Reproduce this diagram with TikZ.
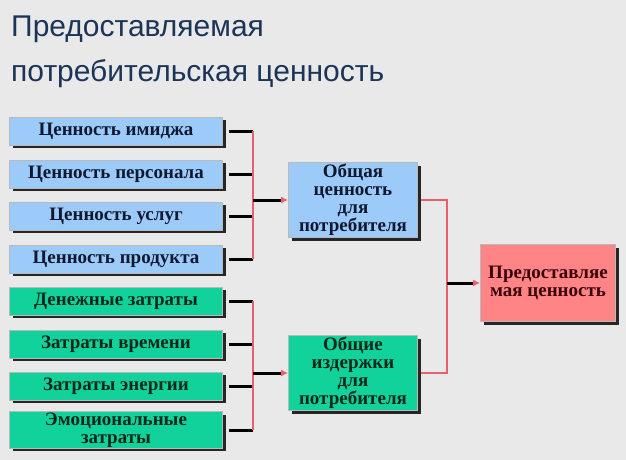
\documentclass[tikz,border=0pt]{standalone}
\usepackage{fontspec}
\setmainfont{Liberation Serif}
\newfontfamily\titlefont{Liberation Sans}
\usetikzlibrary{arrows.meta,shadows}
\definecolor{bg}{HTML}{E9E9E9}
\definecolor{navy}{HTML}{1C3557}
\definecolor{sky}{HTML}{9CCBFA}
\definecolor{mint}{HTML}{12D29C}
\definecolor{rose}{HTML}{FF8486}
\definecolor{wire}{HTML}{E8606A}
\definecolor{ink}{HTML}{101830}
\definecolor{inkg}{HTML}{06281A}
\definecolor{inkr}{HTML}{3A0008}

\begin{document}
\begin{tikzpicture}[x=1pt,y=-1pt,every node/.style={font=\rmfamily\fontsize{19}{18}\selectfont\bfseries,align=center,inner sep=1pt},
box/.style={draw=gray!55,line width=.8pt,drop shadow={shadow xshift=3pt,shadow yshift=-3pt,fill=black!85,opacity=1}},
cbox/.style={box,minimum width=213pt,minimum height=28pt},
mbox/.style={box,minimum width=129pt,minimum height=75pt},
stub/.style={line width=3pt,black},
bus/.style={line width=2pt,wire},
arr/.style={line width=3pt,black,-{Latex[length=7pt,width=7pt,color=wire]}}]
\fill[bg] (0,0) rectangle (626,460);
\useasboundingbox (0,0) rectangle (626,460);
\node[font=\titlefont\fontsize{30}{45}\selectfont,text=navy,anchor=north west,align=left,inner sep=0pt] (title) at (11,16) {Предоставляемая\\потребительская ценность};
% values
\node[cbox,fill=sky,text=ink] (img) at (116,131) {Ценность имиджа};
\node[cbox,fill=sky,text=ink] (pers) at (116,174) {Ценность персонала};
\node[cbox,fill=sky,text=ink] (serv) at (116,216) {Ценность услуг};
\node[cbox,fill=sky,text=ink] (prod) at (116,259) {Ценность продукта};
% costs
\node[cbox,fill=mint,text=inkg] (money) at (116,301) {Денежные затраты};
\node[cbox,fill=mint,text=inkg] (time) at (116,344) {Затраты времени};
\node[cbox,fill=mint,text=inkg] (energy) at (116,386) {Затраты энергии};
\node[cbox,fill=mint,text=inkg,minimum height=36pt] (emo) at (116,430) {Эмоциональные\\затраты};
% totals
\node[mbox,fill=sky,text=ink] (tot) at (353,200) {Общая\\ценность\\для\\потребителя};
\node[mbox,fill=mint,text=inkg] (cost) at (353,373) {Общие\\издержки\\для\\потребителя};
\node[box,fill=rose,text=inkr,minimum width=135pt,minimum height=77pt] (dv) at (548,283) {Предоставляе\\мая ценность};
\coordinate (busA) at (253,200);
\coordinate (busB) at (253,373);
\coordinate (busC) at (447,283);
\foreach \n in {img,pers,serv,prod}
  \draw[stub] ([xshift=6pt]\n.east) -- (\n.east -| busA);
\foreach \n in {money,time,energy,emo}
  \draw[stub] ([xshift=6pt]\n.east) -- (\n.east -| busB);
\draw[bus] (img.east -| busA) -- (prod.east -| busA);
\draw[bus] (money.east -| busB) -- (emo.east -| busB);
\draw[arr] (busA) -- (tot.west);
\draw[arr] (busB) -- (cost.west);
\draw[bus] ([xshift=3pt]tot.east) -| (busC) |- ([xshift=3pt]cost.east);
\draw[arr] (busC) -- (dv.west);
\end{tikzpicture}
\end{document}
